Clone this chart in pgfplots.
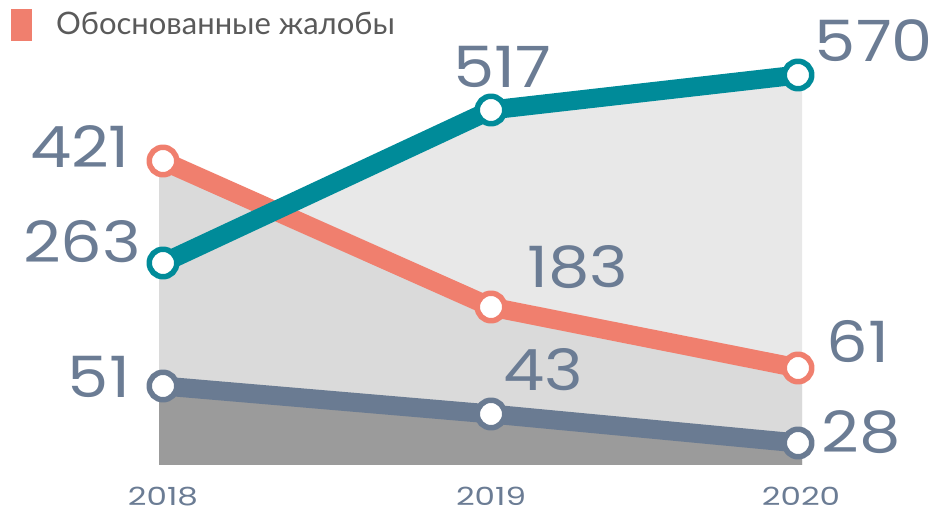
\documentclass[border=0pt]{standalone}
\usepackage{pgfplots}
\usepackage{pgfplotstable}
\pgfplotsset{compat=1.18}
\usepackage{fontspec}
\setmainfont{Poppins}
\newfontfamily\numfont[FakeStretch=1.15]{Poppins}
\newfontfamily\yearfont[FakeStretch=1.3]{Poppins}
\newfontfamily\legfont{Lato}
\definecolor{tealc}{HTML}{008B99}
\definecolor{salmon}{HTML}{F07F6E}
\definecolor{slate}{HTML}{6A7B92}
\definecolor{lbl}{HTML}{6B7C94}
\definecolor{areaA}{HTML}{E8E8E8}
\definecolor{areaB}{HTML}{DADADA}
\definecolor{areaC}{HTML}{9B9B9B}
\definecolor{legtext}{HTML}{5A5A5A}

% x = horizontal position, y = drawn height, val = value shown, dx/dy = label offset
\pgfplotstableread{
x y val dx dy
163 202 263 -81 21
491 355 517 11 43
798 390 570 76 34
}\tealdata
\pgfplotstableread{
x y val dx dy
163 304 421 -83 14
491 158 183 87 40
798 97 61 60 26
}\salmondata
\pgfplotstableread{
x y val dx dy
163 79 51 -64 9
491 51 43 52 44
798 22 28 63 11
}\slatedata
\pgfplotstableread{
x y
159 202
491 355
802 390
}\tealarea
\pgfplotstableread{
x y
159 304
491 158
802 97
}\salmonarea
\pgfplotstableread{
x y
159 79
491 51
802 22
}\slatearea

\begin{document}
\begin{tikzpicture}
\begin{axis}[
  x=1pt, y=1pt,
  xmin=0, xmax=936, ymin=0, ymax=465,
  axis line style={draw=none},
  major tick length=0pt,
  ytick=\empty,
  xtick={163,491,801},
  xticklabels={2018,2019,2020},
  xticklabel style={font=\yearfont\fontsize{25}{25}\selectfont, text=lbl, anchor=base, yshift=-40pt},
  clip=false,
  every node near coord/.append style={font=\numfont\fontsize{57}{57}\selectfont, text=lbl, inner sep=0pt, anchor=center},
  lineplot/.style={
    line width=19pt, line join=round,
    mark=*, mark size=13.75pt,
    nodes near coords, point meta=explicit symbolic,
    visualization depends on={\thisrow{dx} \as \dx},
    visualization depends on={\thisrow{dy} \as \dy},
    nodes near coords style={xshift=\dx pt, yshift=\dy pt},
  },
]
\addplot[fill=areaA, draw=none] table[x=x,y=y] {\tealarea} \closedcycle;
\addplot[fill=areaB, draw=none] table[x=x,y=y] {\salmonarea} \closedcycle;
\addplot[fill=areaC, draw=none] table[x=x,y=y] {\slatearea} \closedcycle;
\addplot[lineplot, color=salmon, mark options={fill=white, draw=salmon, line width=5.5pt}]
  table[x=x,y=y,meta=val] {\salmondata};
\addplot[lineplot, color=slate, mark options={fill=white, draw=slate, line width=5.5pt}]
  table[x=x,y=y,meta=val] {\slatedata};
\addplot[lineplot, color=tealc, mark options={fill=white, draw=tealc, line width=5.5pt}]
  table[x=x,y=y,meta=val] {\tealdata};
\end{axis}
\fill[salmon] (11pt,456pt) rectangle (32pt,424pt);
\node[anchor=base west, inner sep=0pt, text=legtext] at (56pt,430pt)
  {\legfont\fontsize{31}{31}\selectfont Обоснованные жалобы};
\pgfresetboundingbox
\path[use as bounding box] (0pt,-48pt) rectangle (936pt,465pt);
\end{tikzpicture}
\end{document}
